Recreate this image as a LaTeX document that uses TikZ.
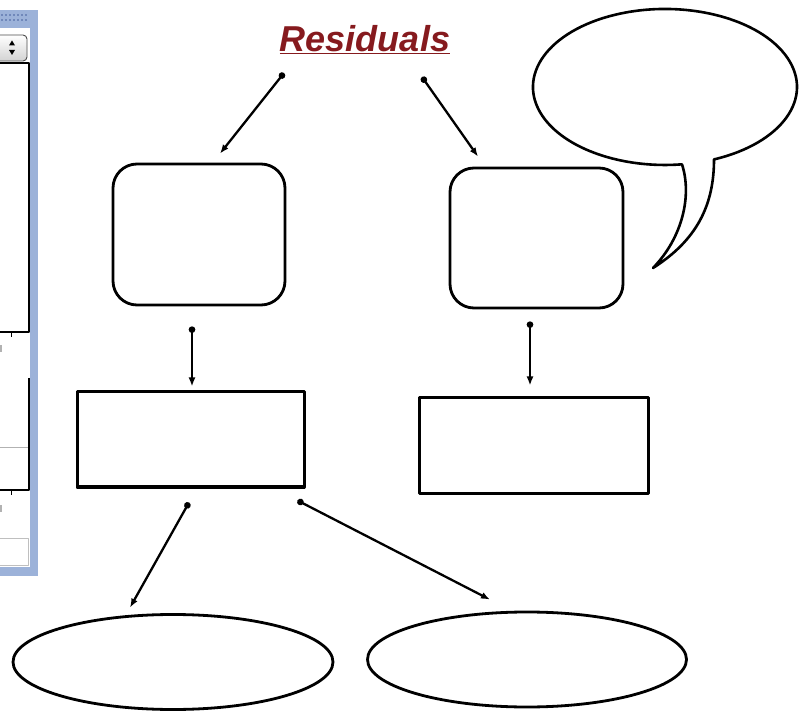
\documentclass[tikz,border=0pt]{standalone}
\usepackage{fontspec}
\newfontfamily\arialf{Liberation Sans}
\usetikzlibrary{arrows.meta,calc,shapes.geometric}
\definecolor{titlered}{HTML}{861A1E}
\definecolor{winblue}{HTML}{9CB2D9}
\definecolor{gripdark}{HTML}{7088BA}
\begin{document}
\begin{tikzpicture}[x=1pt,y=-1pt,line join=round,
  rbox/.style={draw,line width=2.8pt,rounded corners=24pt,inner sep=0pt,fill=white},
  sbox/.style={draw,line width=3pt,inner sep=0pt},
  ebox/.style={ellipse,draw,line width=2.8pt,inner sep=0pt},
  conn/.style={line width=2.3pt,{Circle[length=6.5pt]}-{Latex[length=9pt,width=7pt]}},
  bubble/.style={draw,line width=2.6pt,fill=white}]
\useasboundingbox (0,0) rectangle (804,711);
\begin{scope}
\clip (0,0) rectangle (804,711);
% window fragment
\fill[winblue] (-2,10) rectangle (38,576);
\fill[white] (-2,28) rectangle (30,567);
\foreach \x in {1,5,...,25}{
  \fill[gripdark] (\x,14) rectangle ++(2,2);
  \fill[gripdark] (\x,19) rectangle ++(2,2);}
\shade[top color=white,bottom color=gray!35,draw=gray!60!black,rounded corners=4pt,line width=0.9pt] (-6,35) rectangle (27,61);
\fill (12,40.5) -- (9,45.5) -- (15,45.5) -- cycle;
\fill (12,55) -- (9,50) -- (15,50) -- cycle;
\draw[line width=1.3pt] (-2,63) -- (29,63) -- (29,332) -- (-2,332);
\draw[line width=1pt] (11,332) -- (11,337);
\fill[gray!60] (-1,345) rectangle (1.5,352);
\draw[gray!60,line width=1pt] (-2,448) -- (29,448);
\draw[line width=1.3pt] (29,378) -- (29,490) -- (-2,490);
\draw[line width=1pt] (11,490) -- (11,495);
\fill[gray!60] (-1,505) rectangle (1.5,512);
\draw[gray!50,line width=1pt] (-2,538) rectangle (28,565);
\end{scope}
% title
\node[inner sep=0pt,text=titlered] (title) at (365,40)
  {\arialf\bfseries\itshape\fontsize{36}{42}\selectfont\underline{Residuals}};
% speech bubble
\draw[bubble] (714,159.4) arc[start angle=68.2,end angle=-277.4,x radius=132,y radius=78]
  .. controls (692,195) and (683,237) .. (653,268)
  .. controls (697,240) and (714,205) .. (714,159.4) -- cycle;
% boxes
\node[rbox,minimum width=172pt,minimum height=141pt] (box1) at (199,234.5) {};
\node[rbox,minimum width=173pt,minimum height=140pt] (box2) at (536.5,238) {};
\node[sbox,minimum width=227pt,minimum height=95pt] (rect1) at (190.5,439.5) {};
\node[sbox,minimum width=229pt,minimum height=95pt] (rect2) at (533.5,445.5) {};
\node[ebox,minimum width=320pt,minimum height=95pt] (ell1) at (173,662) {};
\node[ebox,minimum width=319pt,minimum height=95pt] (ell2) at (527,659.5) {};
% connectors
\draw[conn] ($(title.center)+(-81,33)$) -- ($(box1.north)+(21,-9)$);
\draw[conn] ($(title.center)+(57,37)$) -- ($(box2.north)+(-58.5,-10)$);
\draw[conn] ($(box1.south)+(-7,20)$) -- ($(rect1.north)+(1.5,-4)$);
\draw[conn] ($(box2.south)+(-6.5,12)$) -- ($(rect2.north)+(-3.5,-11)$);
\draw[conn] ($(rect1.south)+(-1.5,14)$) -- ($(ell1.north)+(-43,-5.5)$);
\draw[conn] ($(rect1.south east)+(-8,12)$) -- ($(ell2.north)+(-37,-11)$);
\end{tikzpicture}
\end{document}
